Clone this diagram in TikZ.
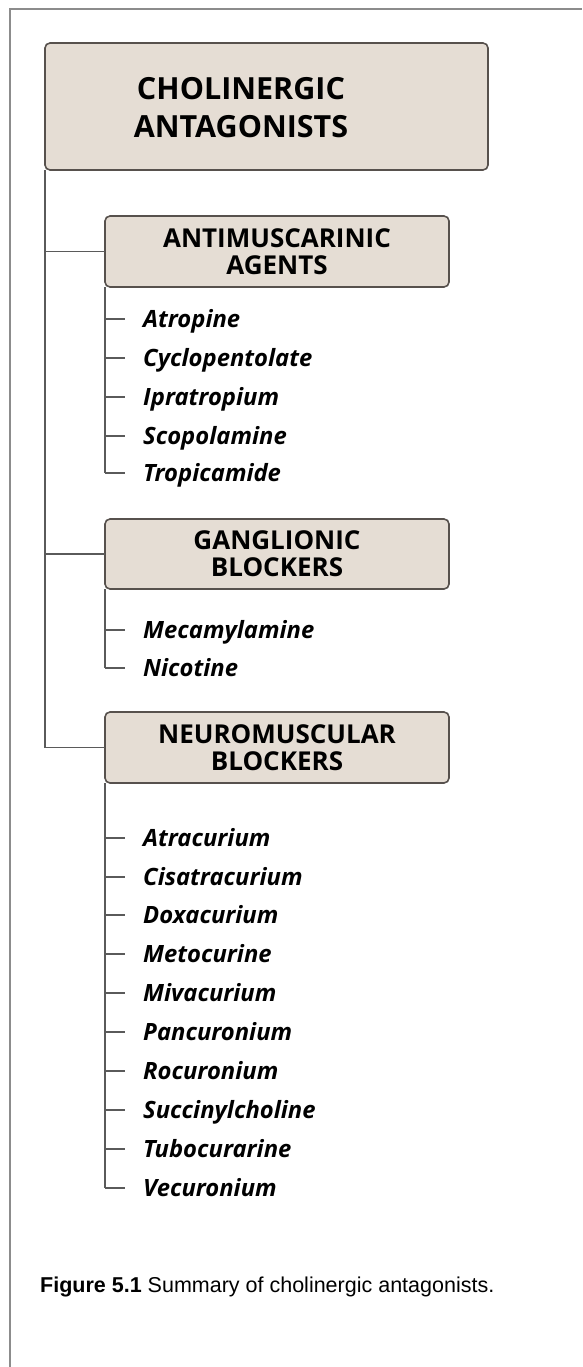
\documentclass[tikz,border=0pt]{standalone}
\usepackage{fontspec}
\setmainfont{Open Sans}
\newfontfamily\capfont{Liberation Sans}
\definecolor{boxfill}{RGB}{229,221,212}
\definecolor{boxborder}{RGB}{87,81,77}
\definecolor{linkgray}{RGB}{90,90,90}
\definecolor{framegray}{RGB}{140,140,140}
\begin{document}
\begin{tikzpicture}[x=1pt,y=-1pt,
  frameline/.style={draw=framegray, line width=2pt},
  catbox/.style={draw=boxborder, fill=boxfill, line width=1.6pt, rounded corners=5pt,
    anchor=north west, inner sep=0pt, outer sep=0pt, align=center,
    minimum width=344pt, minimum height=71pt,
    font=\bfseries\fontsize{26}{27}\selectfont},
  topbox/.style={draw=boxborder, fill=boxfill, line width=1.6pt, rounded corners=5pt,
    anchor=north west, inner sep=0pt, outer sep=0pt,
    minimum width=443pt, minimum height=127pt},
  toptext/.style={align=center, inner sep=0pt, font=\bfseries\fontsize{30.5}{38}\selectfont},
  link/.style={draw=linkgray, line width=1.4pt},
  item/.style={anchor=base west, inner sep=0pt, font=\bfseries\itshape\fontsize{23.8}{26}\selectfont},
  captext/.style={anchor=base west, inner sep=0pt, font=\capfont\fontsize{21.5}{24}\selectfont}
]
\useasboundingbox (0,0) rectangle (582,1367);
\fill[white] (0,0) rectangle (582,1367);
% frame
\draw[frameline] (10,1367) -- (10,9) -- (582,9);

% top box
\node[topbox] (top) at (45,43) {};
\node[toptext] (toplbl) at (241,108) {CHOLINERGIC\\ANTAGONISTS};

% category boxes
\node[catbox] (ams) at (105,216) {ANTIMUSCARINIC\\AGENTS};
\node[catbox, minimum height=70pt] (gang) at (105,519) {GANGLIONIC\\BLOCKERS};
\node[catbox] (nmb) at (105,712) {NEUROMUSCULAR\\BLOCKERS};

% trunk and branches
\draw[link] (top.south west) |- (nmb.west);
\draw[link] (top.south west |- ams.west) -- (ams.west);
\draw[link] (top.south west |- gang.west) -- (gang.west);

% antimuscarinic items
\node[item] (a1) at (143,327) {Atropine};
\node[item] (a2) at (143,366) {Cyclopentolate};
\node[item] (a3) at (143,405) {Ipratropium};
\node[item] (a4) at (143,444) {Scopolamine};
\node[item] (a5) at (143,481) {Tropicamide};
\draw[link] (ams.south west) -- ([yshift=8pt]a5.base west -| ams.south west);
\foreach \n in {a1,a2,a3,a4,a5}
  \draw[link] ([yshift=8pt]\n.base west -| ams.south west) -- ++(20,0);

% ganglionic items
\node[item] (g1) at (143,638) {Mecamylamine};
\node[item] (g2) at (143,676) {Nicotine};
\draw[link] (gang.south west) -- ([yshift=8pt]g2.base west -| gang.south west);
\foreach \n in {g1,g2}
  \draw[link] ([yshift=8pt]\n.base west -| gang.south west) -- ++(20,0);

% neuromuscular items
\node[item] (n1) at (143,846) {Atracurium};
\node[item] (n2) at (143,885) {Cisatracurium};
\node[item] (n3) at (143,923) {Doxacurium};
\node[item] (n4) at (143,962) {Metocurine};
\node[item] (n5) at (143,1001) {Mivacurium};
\node[item] (n6) at (143,1040) {Pancuronium};
\node[item] (n7) at (143,1079) {Rocuronium};
\node[item] (n8) at (143,1118) {Succinylcholine};
\node[item] (n9) at (143,1157) {Tubocurarine};
\node[item] (n10) at (143,1196) {Vecuronium};
\draw[link] (nmb.south west) -- ([yshift=8pt]n10.base west -| nmb.south west);
\foreach \n in {n1,n2,n3,n4,n5,n6,n7,n8,n9,n10}
  \draw[link] ([yshift=8pt]\n.base west -| nmb.south west) -- ++(20,0);

% caption
\node[captext] (cap) at (40,1292) {\textbf{Figure 5.1} Summary of cholinergic antagonists.};
\end{tikzpicture}
\end{document}
